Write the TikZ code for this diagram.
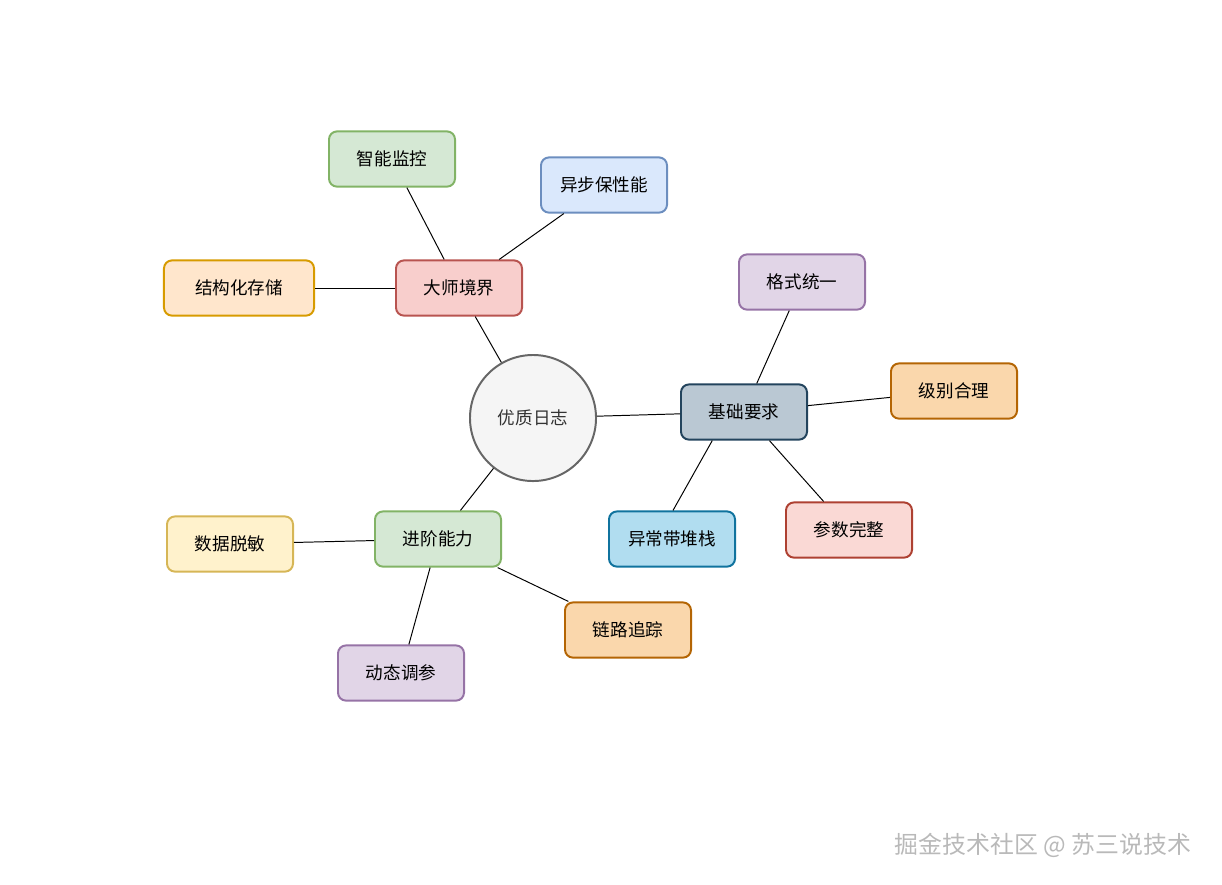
\documentclass[tikz,border=0pt]{standalone}
\usepackage{fontspec}
\setmainfont{Noto Sans CJK SC}
\definecolor{redF}{HTML}{F8CECC}\definecolor{redD}{HTML}{B85450}
\definecolor{greenF}{HTML}{D5E8D4}\definecolor{greenD}{HTML}{82B366}
\definecolor{blueF}{HTML}{DAE8FC}\definecolor{blueD}{HTML}{6C8EBF}
\definecolor{orangeF}{HTML}{FFE6CC}\definecolor{orangeD}{HTML}{D79B00}
\definecolor{slateF}{HTML}{BAC8D3}\definecolor{slateD}{HTML}{23445D}
\definecolor{purpleF}{HTML}{E1D5E7}\definecolor{purpleD}{HTML}{9673A6}
\definecolor{amberF}{HTML}{FAD7AC}\definecolor{amberD}{HTML}{B46504}
\definecolor{pinkF}{HTML}{FAD9D5}\definecolor{pinkD}{HTML}{AE4132}
\definecolor{cyanF}{HTML}{B1DDF0}\definecolor{cyanD}{HTML}{10739E}
\definecolor{yellowF}{HTML}{FFF2CC}\definecolor{yellowD}{HTML}{D6B656}
\definecolor{greyF}{HTML}{F5F5F5}\definecolor{greyD}{HTML}{666666}
\definecolor{greyT}{HTML}{333333}
\begin{document}
\begin{tikzpicture}[x=0.025cm, y=-0.025cm,
  box/.style={draw, line width=1.4pt, rounded corners=2mm, minimum width=3.15cm,
    minimum height=1.38cm, inner sep=0pt, font=\fontsize{12.5}{15}\selectfont},
  hub/.style={circle, draw=greyD, fill=greyF, text=greyT, line width=1.4pt,
    minimum size=3.15cm, inner sep=0pt, font=\fontsize{12.5}{15}\selectfont},
  link/.style={line width=0.7pt}]
\useasboundingbox (0,0) rectangle (1222,884);

% centre
\node[hub] (log) at (533,418) {优质日志};

% master level
\node[box, fill=redF, draw=redD] (master) at (459,288) {大师境界};
\node[box, fill=greenF, draw=greenD] (monitor) at (392,159) {智能监控};
\node[box, fill=blueF, draw=blueD] (async) at (604,185) {异步保性能};
\node[box, fill=orangeF, draw=orangeD, minimum width=3.75cm] (store) at (239,288) {结构化存储};

% basic level
\node[box, fill=slateF, draw=slateD] (basic) at (744,412) {基础要求};
\node[box, fill=purpleF, draw=purpleD] (format) at (802,282) {格式统一};
\node[box, fill=amberF, draw=amberD] (level) at (954,391) {级别合理};
\node[box, fill=pinkF, draw=pinkD] (param) at (849,530) {参数完整};
\node[box, fill=cyanF, draw=cyanD] (stack) at (672,539) {异常带堆栈};

% advanced level
\node[box, fill=greenF, draw=greenD] (adv) at (438,539) {进阶能力};
\node[box, fill=yellowF, draw=yellowD] (mask) at (230,544) {数据脱敏};
\node[box, fill=purpleF, draw=purpleD] (tune) at (401,673) {动态调参};
\node[box, fill=amberF, draw=amberD] (trace) at (628,630) {链路追踪};

\draw[link] (log) -- (master);
\draw[link] (log) -- (basic);
\draw[link] (log) -- (adv);
\draw[link] (master) -- (monitor);
\draw[link] (master) -- (async);
\draw[link] (master) -- (store);
\draw[link] (basic) -- (format);
\draw[link] (basic) -- (level);
\draw[link] (basic) -- (param);
\draw[link] (basic.222) -- (stack.88);
\draw[link] (adv) -- (mask);
\draw[link] (adv) -- (tune);
\draw[link] (adv) -- (trace);

\node[text=gray!55, font=\fontsize{17}{20}\selectfont] (mark) at (1043,845) {掘金技术社区 @ 苏三说技术};
\end{tikzpicture}
\end{document}
